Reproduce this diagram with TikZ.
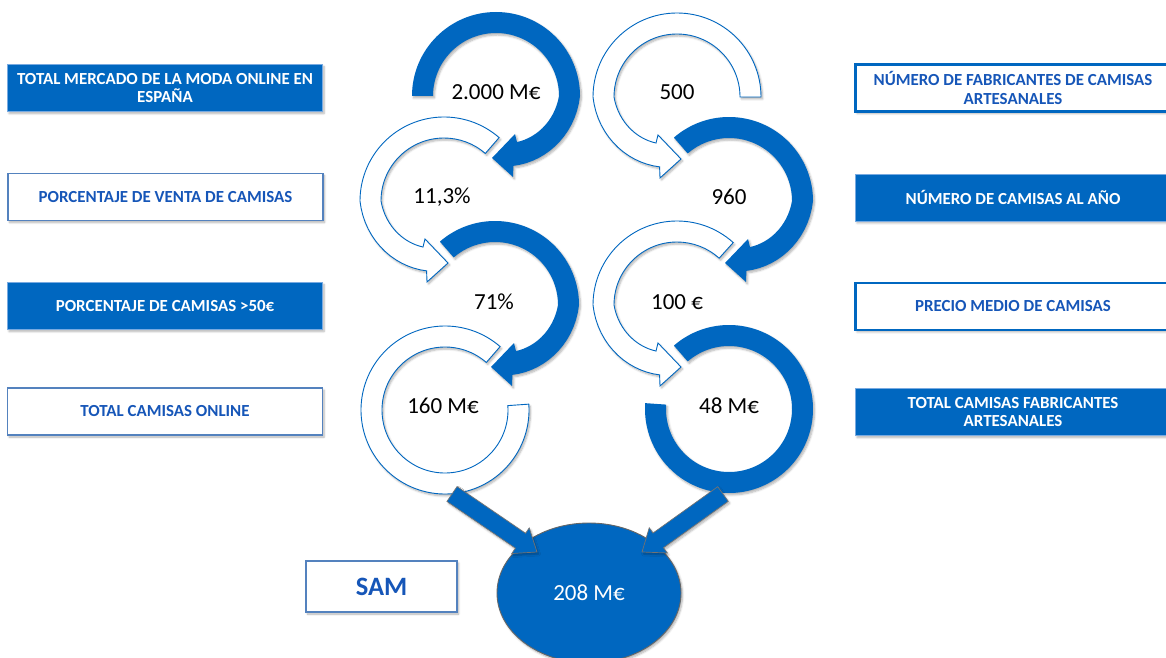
\documentclass[tikz,border=0pt]{standalone}
\usepackage{fontspec}
\setmainfont{Carlito}
\usetikzlibrary{calc,shadows.blur,shapes.geometric}
\definecolor{mblue}{RGB}{0,103,192}
\definecolor{tblue}{RGB}{22,86,184}
\definecolor{edgeblue}{RGB}{84,130,190}
\definecolor{lightedge}{RGB}{120,170,225}
\newcommand{\headarcpath}[1]{(#1:84) arc[start angle=#1, end angle=0, radius=84] -- plot[domain=0:-76, samples=16] ({(84+12*\x/76)*cos(\x)}, {(84+12*\x/76)*sin(\x)}) -- (17,-81) -- (-4,-62) -- (19,-38) -- plot[domain=-65.5:0, samples=16] ({(63+12.4*\x/65.5)*cos(\x)}, {(63+12.4*\x/65.5)*sin(\x)}) -- (0:63) arc[start angle=0, end angle=#1, radius=63] -- cycle}
\newcommand{\blockarcpath}{(131:84) arc[start angle=131, end angle=-184, radius=84] -- (-184:63) arc[start angle=-184, end angle=131, radius=63] -- cycle}
\tikzset{
  shad/.style={blur shadow={shadow xshift=1.5pt, shadow yshift=-2pt, shadow blur radius=2pt, shadow blur steps=6, shadow opacity=30}},
  solidarc/.style={fill=mblue, shad},
  hollowarc/.style={fill=white, draw=mblue, line width=0.9pt, shad},
  numtext/.style={font=\fontsize{23}{26}\selectfont, text=black, inner sep=0pt},
  boxbase/.style={minimum width=315pt, minimum height=47pt, align=center, inner sep=2pt, font=\fontsize{16.9}{18.2}\selectfont\bfseries, shad},
  fillbox/.style={boxbase, fill=mblue, draw=lightedge, line width=0.8pt, text=white},
  linebox/.style={boxbase, fill=white, draw=edgeblue, line width=1.2pt, text=tblue},
  thickbox/.style={boxbase, fill=white, draw=mblue, line width=2.6pt, text=tblue},
  blockarrow/.style={fill=mblue, draw=black!55, line width=0.7pt, line join=miter, shad}
}
\begin{document}
\begin{tikzpicture}[x=1pt, y=1pt]
\useasboundingbox (0,0) rectangle (1166,657);
% ---- left column of circular arrows
\begin{scope}[shift={(444,456)}, xscale=-1]
  \path[hollowarc] \headarcpath{131};
\end{scope}
\begin{scope}[shift={(445,247)}, xscale=-1]
  \path[hollowarc] \blockarcpath;
\end{scope}
\begin{scope}[shift={(496,561)}]
  \path[solidarc] \headarcpath{180};
\end{scope}
\begin{scope}[shift={(495,352)}]
  \path[solidarc] \headarcpath{131};
\end{scope}
% ---- right column of circular arrows
\begin{scope}[shift={(677,560)}, xscale=-1]
  \path[hollowarc] \headarcpath{180};
\end{scope}
\begin{scope}[shift={(677,352)}, xscale=-1]
  \path[hollowarc] \headarcpath{132};
\end{scope}
\begin{scope}[shift={(729,456)}]
  \path[solidarc] \headarcpath{131};
\end{scope}
\begin{scope}[shift={(729,248)}]
  \path[solidarc] \blockarcpath;
\end{scope}
% ---- values
\node[numtext] (v1) at (496,565) {2.000 M€};
\node[numtext] (v2) at (442,460) {11,3\%};
\node[numtext] (v3) at (494,355) {71\%};
\node[numtext] (v4) at (443,251) {160 M€};
\node[numtext] (w1) at (677,565) {500};
\node[numtext] (w2) at (729,460) {960};
\node[numtext] (w3) at (677,355) {100 €};
\node[numtext] (w4) at (729,251) {48 M€};
% ---- left labels
\node[fillbox] (l1) at (165,569) {TOTAL MERCADO DE LA MODA ONLINE EN\\ESPAÑA};
\node[linebox] (l2) at (165.5,460) {PORCENTAJE DE VENTA DE CAMISAS};
\node[fillbox] (l3) at (165,351) {PORCENTAJE DE CAMISAS >50€};
\node[linebox] (l4) at (165,245.5) {TOTAL CAMISAS ONLINE};
% ---- right labels
\node[thickbox] (r1) at (1013,569) {NÚMERO DE FABRICANTES DE CAMISAS\\ARTESANALES};
\node[fillbox] (r2) at (1013,459.5) {NÚMERO DE CAMISAS AL AÑO};
\node[thickbox] (r3) at (1013,350.5) {PRECIO MEDIO DE CAMISAS};
\node[fillbox] (r4) at (1013,245) {TOTAL CAMISAS FABRICANTES\\ARTESANALES};
% ---- SAM
\node[linebox, minimum width=151pt, minimum height=51pt, font=\fontsize{26.5}{28}\selectfont\bfseries] (sam) at (381.5,70.5) {SAM};
\node[ellipse, minimum width=184pt, minimum height=140pt, fill=mblue, draw=black!60, line width=0.9pt, text=white, font=\fontsize{23}{26}\selectfont, shad] (res) at (589,64) {208 M€};
% ---- block arrows
\coordinate (tl) at (452,163);
\coordinate (pl) at (537,105);
\coordinate (tr) at (723,163);
\coordinate (pr) at (642,105);
\foreach \t/\p in {tl/pl, tr/pr}{
  \coordinate (hb) at ($(\p)!20pt!(\t)$);
  \path[blockarrow] ($(\t)!9pt!90:(\p)$) -- ($(hb)!9pt!-90:(\t)$) -- ($(hb)!15.5pt!-90:(\t)$) -- (\p) -- ($(hb)!15.5pt!90:(\t)$) -- ($(hb)!9pt!90:(\t)$) -- ($(\t)!9pt!-90:(\p)$) -- cycle;
}
\end{tikzpicture}
\end{document}
